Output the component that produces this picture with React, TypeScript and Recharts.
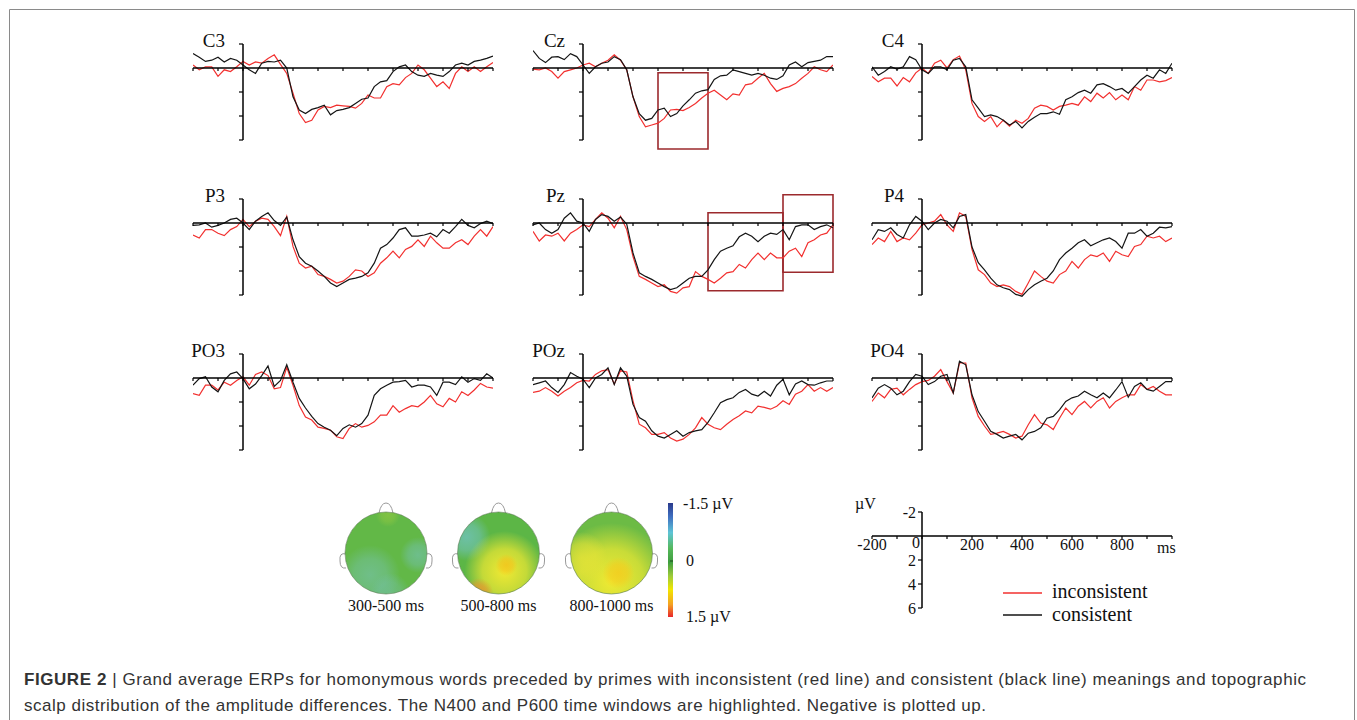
import { LineChart, Line, XAxis, YAxis, ReferenceLine, ReferenceArea } from 'recharts';

// time points (ms)
const times = [-200, -175, -150, -125, -100, -75, -50, -25, 0, 25, 50, 75, 100, 125, 150, 175, 200, 225, 250, 275, 300, 325, 350, 375, 400, 425, 450, 475, 500, 525, 550, 575, 600, 625, 650, 675, 700, 725, 750, 775, 800, 825, 850, 875, 900, 925, 950, 975, 1000];

// amplitudes in µV (positive = down, negative plotted up)
const c3Inconsistent = [-0.25, 0.15, -0.1, -0.1, 0.7, 0.15, 0.3, -0.1, -0.55, -0.25, -0.5, -0.4, -0.8, -1.1, -0.3, 0.45, 2.1, 3.8, 4.55, 4.35, 3.5, 3.2, 3.3, 3.1, 3.15, 3.2, 3.35, 2.95, 2.25, 2.5, 2.5, 1.55, 1.3, 1.4, 0.8, 0.45, -0.25, 0.15, 0.85, 1.55, 1.15, 1.7, 0.45, -0.1, 0.3, -0.1, 0.3, -0.1, -0.45];
const c3Consistent = [-1.2, -0.9, -0.55, -0.65, -0.9, -0.5, -0.8, -0.65, -0.25, 0.15, 0.45, -0.4, -0.55, -0.5, -0.65, 0, 2.4, 3.5, 3.8, 3.45, 3.3, 3.1, 3.9, 3.55, 3.45, 3.3, 2.95, 2.6, 2.5, 1.55, 1.15, 1.05, 0.3, -0.1, -0.25, 0.3, 0.6, 0.7, 0.45, 0.6, 0.7, 0.3, -0.25, -0.4, -0.25, -0.55, -0.65, -0.8, -1.0];
const czInconsistent = [0.1, 0.15, 0, 0.3, 0.85, 0.3, 0.15, 0, -0.25, -0.4, -0.1, -0.4, -0.65, -1.1, -0.65, 0.15, 2.4, 4.05, 4.9, 4.75, 4.6, 4.2, 3.5, 3.45, 3.55, 3.3, 2.95, 2.5, 2.1, 1.85, 2.25, 2.65, 2.15, 2.25, 1.4, 1.3, 0.85, 0.45, 1.3, 1.95, 1.7, 1.55, 1.3, 0.85, 0.45, -0.1, 0.15, 0.3, -0.25];
const czConsistent = [-1.45, -0.8, -0.45, -0.9, -0.95, -0.7, -1.2, -0.95, -0.25, 0.45, -0.1, -0.4, -0.5, -0.95, -0.7, 0.15, 2.4, 3.8, 4.35, 4.2, 3.5, 3.35, 4.05, 3.8, 3.15, 2.65, 2.1, 1.9, 1.8, 0.95, 0.65, 0.6, 0.15, 0.3, 0.45, 0.6, 0.45, 0.6, 0.85, 0.95, 0.65, -0.25, -0.5, -0.1, -0.45, -0.55, -0.65, -0.95, -0.95];
const c4Inconsistent = [0.7, 1.15, 0.85, 0.85, 1.5, 0.8, 1.15, 0.4, 0, 0.45, -0.4, -0.65, 0, -0.7, -1.0, 0.15, 2.95, 4.05, 4.45, 4.05, 4.9, 4.35, 4.85, 4.35, 4.6, 4.2, 3.35, 3.1, 3.2, 3.5, 3.2, 3.1, 2.95, 3.1, 2.4, 2.8, 2.1, 2.5, 2.05, 2.65, 2.25, 2.65, 1.55, 1.85, 1.0, 1.0, 1.15, 1.05, 0.8];
const c4Consistent = [-0.1, 0.6, 0.3, -0.1, 0.1, -0.1, -0.95, -0.7, 0.15, 0.45, -0.1, -0.1, 0.15, -0.65, -0.8, -0.1, 2.65, 3.35, 4.05, 3.9, 4.05, 4.35, 4.75, 4.45, 5.0, 4.45, 4.1, 3.8, 3.8, 3.65, 3.85, 2.65, 2.4, 2.05, 1.85, 2.1, 1.4, 1.3, 1.55, 1.85, 1.7, 2.1, 1.55, 1.0, 0.6, 0.85, 0.15, 0.45, -0.4];
const p3Inconsistent = [1.0, 1.25, 0.55, 0.55, 0.85, 1.05, 0.55, 0.3, -0.3, 0.3, -0.15, -0.4, -0.3, 0.3, 1.05, -0.55, 1.95, 3.35, 3.75, 3.6, 4.3, 4.45, 4.7, 5.0, 4.85, 4.45, 3.9, 4.0, 4.45, 4.15, 3.35, 2.9, 2.35, 2.9, 2.2, 1.95, 1.4, 1.95, 1.1, 1.65, 2.1, 2.1, 1.65, 1.4, 1.8, 1.1, 0.55, 1.1, 0.3];
const p3Consistent = [0.2, 0.15, 0, 0.35, 0.2, 0, -0.3, -0.4, 0, 0.55, -0.15, -0.55, -0.85, -0.2, 0.2, -0.5, 1.4, 2.8, 3.35, 3.6, 4.0, 4.45, 5.0, 5.3, 5.0, 4.7, 4.6, 4.45, 4.15, 3.35, 2.1, 1.8, 1.25, 0.55, 0.4, 1.1, 1.1, 1.0, 0.85, 1.15, 0.55, 0.85, 0.3, -0.3, 0.2, 0.4, 0.05, -0.15, 0.05];
const pzInconsistent = [0.7, 1.5, 1.0, 1.1, 0.85, 1.5, 0.85, 0.55, 0.15, 0.3, -0.3, -0.85, -0.4, 0.4, -0.55, 0.55, 2.8, 4.45, 4.7, 5.0, 5.3, 5.15, 5.7, 5.85, 5.4, 5.3, 4.05, 4.45, 4.7, 5.0, 4.6, 4.15, 4.05, 3.45, 3.75, 3.05, 2.5, 3.05, 2.5, 2.9, 2.9, 2.35, 2.1, 2.8, 1.65, 1.4, 1.0, 0.85, 0.15];
const pzConsistent = [0.15, 0, 0.55, 0.85, 0.55, -0.4, -0.85, -0.15, 0, 0.7, -0.3, -0.7, -0.55, -0.15, -0.5, 0.1, 2.5, 4.15, 4.45, 4.7, 5.0, 5.3, 5.55, 5.4, 5.0, 4.6, 4.45, 4.45, 3.9, 3.05, 2.35, 2.1, 1.9, 1.15, 0.85, 1.1, 1.55, 1.1, 0.85, 0.95, 0.55, 1.4, 0.3, 0.15, 0.15, 0.55, 0.3, 0.15, 0.4];
const p4Inconsistent = [1.8, 1.25, 1.55, 0.7, 1.55, 1.25, 1.4, 0.85, 0.15, 0, -0.15, -0.7, 0.15, 0.7, -0.85, -0.55, 2.2, 3.9, 4.3, 5.0, 5.3, 5.15, 5.3, 5.7, 5.95, 5.0, 4.0, 4.45, 4.85, 5.0, 4.3, 4.0, 3.2, 3.75, 3.05, 2.65, 2.8, 2.5, 3.2, 2.35, 2.65, 2.8, 1.95, 1.8, 1.1, 1.25, 1.1, 1.55, 1.25];
const p4Consistent = [1.4, 0.55, 0.7, 0.4, 0.95, 1.25, 0.15, -0.55, -0.15, 0.55, 0, -0.3, -0.15, 0.4, -0.55, -0.7, 2.0, 3.3, 3.9, 4.6, 5.15, 5.4, 5.55, 5.95, 6.1, 5.55, 5.15, 4.85, 4.6, 4.0, 3.05, 2.5, 2.1, 1.65, 1.4, 1.9, 1.65, 1.4, 1.25, 1.55, 2.1, 0.85, 0.85, 0.55, 1.1, 0.85, 0.35, 0.4, 0.3];
const po3Inconsistent = [1.3, 1.45, 0.6, 0.6, 1.0, 0.35, 0.6, 0.2, -0.1, 0.6, -0.3, -0.5, -0.2, 0.9, 0.8, -0.9, 0.6, 2.3, 3.25, 3.5, 4.1, 4.2, 4.35, 4.9, 5.05, 4.2, 3.8, 4.1, 3.95, 3.65, 3.1, 3.1, 2.3, 2.85, 2.55, 2.3, 2.4, 2.0, 1.45, 2.15, 2.4, 1.7, 2.0, 1.15, 1.45, 1.0, 0.45, 0.75, 0.85];
const po3Consistent = [0.6, 0.05, -0.1, 0.75, 1.15, 0.2, -0.35, -0.5, 0.05, 0.9, 0.5, -0.2, -1.0, 0.7, 0.2, -1.1, 0.35, 1.7, 2.5, 3.2, 3.8, 4.1, 4.35, 4.8, 4.2, 3.9, 4.1, 3.8, 3.1, 1.45, 0.9, 0.6, 0.35, 0.3, 0.2, 0.75, 0.6, 0.6, 0.75, 1.45, 0.35, 0.35, 0.55, -0.1, 0.35, 0.05, 0.2, -0.35, 0];
const pozInconsistent = [1.2, 1.1, 0.8, 1.1, 1.5, 1.1, 0.8, 0.4, 0.2, 0.25, -0.3, -0.6, -0.7, 0.5, -0.6, -0.5, 1.9, 3.85, 4.15, 4.7, 4.7, 4.55, 5.0, 5.25, 5.1, 4.7, 4.15, 3.3, 3.85, 4.15, 4.3, 3.85, 3.45, 3.15, 2.75, 2.9, 2.35, 2.45, 2.6, 2.35, 1.9, 2.2, 1.35, 1.1, 0.55, 1.1, 0.8, 1.1, 0.8];
const pozConsistent = [0.55, 0.4, 0.25, 0.8, 1.2, 0.55, -0.45, -0.15, 0.1, 0.8, 0, -0.3, -0.85, 0.55, -0.85, -0.15, 2.2, 3.3, 3.6, 4.4, 4.85, 5.0, 4.7, 4.4, 4.85, 4.55, 4.4, 4.3, 3.7, 2.9, 2.05, 1.8, 1.65, 1.2, 0.95, 1.35, 1.5, 1.1, 1.5, 0.6, 0.1, 1.4, 0.5, 0.25, 0.55, 0.6, 0.4, 0.25, 0.25];
const po4Inconsistent = [1.95, 1.25, 1.65, 0.95, 0.85, 1.4, 0.95, 0.55, 0.3, 0.2, -0.15, -0.7, 0.3, 1.25, -1.25, -1.25, 1.65, 3.2, 4.0, 4.7, 4.6, 4.45, 4.7, 5.0, 4.85, 3.9, 3.05, 3.75, 3.9, 4.3, 3.35, 2.5, 3.05, 2.35, 1.95, 2.5, 1.95, 1.65, 2.5, 1.95, 1.65, 1.4, 1.4, 0.55, 0.95, 0.7, 1.1, 1.4, 1.4];
const po4Consistent = [1.65, 0.85, 0.55, 0.85, 1.4, 1.1, 0.3, -0.3, -0.15, 0.55, 0.3, -0.15, -0.3, 1.25, -1.4, -1.1, 1.4, 2.8, 3.6, 4.45, 4.7, 5.0, 4.85, 4.7, 5.15, 4.6, 4.45, 4.15, 3.35, 3.2, 2.65, 1.95, 1.65, 1.5, 1.1, 1.4, 1.65, 1.25, 1.65, 1.0, 0.3, 1.6, 0.7, 0.4, 0.95, 1.1, 0.7, 0.3, 0.3];

const channelNames = ['C3', 'Cz', 'C4', 'P3', 'Pz', 'P4', 'PO3', 'POz', 'PO4'];
const inconsistentSeries = [c3Inconsistent, czInconsistent, c4Inconsistent, p3Inconsistent, pzInconsistent, p4Inconsistent, po3Inconsistent, pozInconsistent, po4Inconsistent];
const consistentSeries = [c3Consistent, czConsistent, c4Consistent, p3Consistent, pzConsistent, p4Consistent, po3Consistent, pozConsistent, po4Consistent];

// highlighted windows: [t1, t2, µV top, µV bottom]
const windowsByChannel: Record<string, number[][]> = {
  Cz: [[300, 500, 0.4, 6.75]],
  Pz: [[500, 800, -0.85, 5.65], [800, 1000, -2.35, 4.1]],
};

const xTicks = [-200, -100, 0, 100, 200, 300, 400, 500, 600, 700, 800, 900, 1000];
const yTicks = [-2, 2, 4, 6];
const xTickLabels = [-200, 0, 200, 400, 600, 800];

const topoLabels = ['300-500 ms', '500-800 ms', '800-1000 ms'];

const RED = '#f2302f';
const BLACK = '#151515';
const BOX = '#9c2a2d';
const SERIF = '"Liberation Serif", "Times New Roman", serif';

const colX = [243, 583, 922];
const rowY = [68, 223, 378];

function axisMarks(withLabels: boolean) {
  const els: any[] = [];
  els.push(<ReferenceLine key="xa" segment={[{ x: -200, y: 0 }, { x: 1000, y: 0 }]} stroke="#000" strokeWidth={1.5} />);
  els.push(<ReferenceLine key="ya" segment={[{ x: 0, y: -2 }, { x: 0, y: 6 }]} stroke="#000" strokeWidth={1.5} />);
  xTicks.forEach((t) => {
    const lab = withLabels && xTickLabels.includes(t);
    els.push(
      <ReferenceLine
        key={'xt' + t}
        segment={[{ x: t, y: 0 }, { x: t, y: 0.25 }]}
        stroke="#000"
        strokeWidth={1.2}
        label={lab ? { value: String(t), position: 'bottom', offset: 0, fill: '#111', fontSize: 16, dx: t === 0 ? -6 : 0, dy: t === 0 ? -2 : 0 } : undefined}
      />
    );
  });
  yTicks.forEach((v) => {
    els.push(
      <ReferenceLine
        key={'yt' + v}
        segment={[{ x: -16, y: v }, { x: 0, y: v }]}
        stroke="#000"
        strokeWidth={1.2}
        label={withLabels ? { value: String(v), position: 'left', offset: 2, fill: '#111', fontSize: 16 } : undefined}
      />
    );
  });
  return els;
}

function ErpPanel({ idx }: { idx: number }) {
  const name = channelNames[idx];
  const red = inconsistentSeries[idx];
  const black = consistentSeries[idx];
  const data = times.map((t, i) => ({ t, inconsistent: red[i], consistent: black[i] }));
  const x0 = colX[idx % 3];
  const y0 = rowY[Math.floor(idx / 3)];
  const wins = windowsByChannel[name] || [];
  return (
    <div style={{ position: 'absolute', left: x0 - 60, top: y0 - 46, fontFamily: SERIF }}>
      <LineChart width={320} height={140} data={data} margin={{ top: 10, right: 10, bottom: 10, left: 10 }}>
        <XAxis type="number" dataKey="t" domain={[-200, 1000]} tickCount={7} allowDataOverflow hide />
        <YAxis type="number" domain={[-3, 7]} tickCount={11} allowDataOverflow reversed hide />
        <Line type="linear" dataKey="inconsistent" stroke={RED} strokeWidth={1.2} dot={false} isAnimationActive={false} />
        <Line type="linear" dataKey="consistent" stroke={BLACK} strokeWidth={1.2} dot={false} isAnimationActive={false} />
        {axisMarks(false)}
        {wins.map((w, i) => (
          <ReferenceArea key={i} x1={w[0]} x2={w[1]} y1={w[2]} y2={w[3]} fill="none" fillOpacity={0} stroke={BOX} strokeWidth={1.6} />
        ))}
      </LineChart>
    </div>
  );
}

function ScalePanel() {
  const data = times.map((t) => ({ t }));
  const x0 = 922;
  const y0 = 536;
  return (
    <div style={{ position: 'absolute', left: x0 - 90, top: y0 - 46, fontFamily: SERIF }}>
      <LineChart width={350} height={140} data={data} margin={{ top: 10, right: 10, bottom: 10, left: 40 }}>
        <XAxis type="number" dataKey="t" domain={[-200, 1000]} tickCount={7} allowDataOverflow hide />
        <YAxis type="number" domain={[-3, 7]} tickCount={11} allowDataOverflow reversed hide />
        {axisMarks(true)}
      </LineChart>
    </div>
  );
}

function Blob({ id, cx, cy, r, color, op }: { id: string; cx: number; cy: number; r: number; color: string; op: number }) {
  return (
    <g>
      <defs>
        <radialGradient id={id}>
          <stop offset="0%" stopColor={color} stopOpacity={op} />
          <stop offset="55%" stopColor={color} stopOpacity={op * 0.7} />
          <stop offset="100%" stopColor={color} stopOpacity={0} />
        </radialGradient>
      </defs>
      <circle cx={cx} cy={cy} r={r} fill={`url(#${id})`} />
    </g>
  );
}

const topoCenters = [386, 498.5, 611.5];
const topoBase = ['#62b847', '#5cb646', '#6cbb45'];
const topoBlobs: [number, number, number, string, number][][] = [
  [[-16, 22, 30, '#79c3b4', 0.6], [32, 2, 18, '#76c2b8', 0.6], [4, 40, 20, '#77c1b6', 0.5], [2, -38, 12, '#a6cf3e', 0.45]],
  [[-32, -16, 24, '#70c2b6', 0.85], [6, 18, 40, '#f1e932', 1], [8, 12, 11, '#f2c41c', 0.85], [-20, 40, 15, '#f0902c', 0.85]],
  [[0, 28, 58, '#f0ea32', 1], [-30, 5, 26, '#e8e437', 0.75], [7, 20, 16, '#f3cc1e', 0.85]],
];

function Decorations() {
  const cy = 553;
  const R = 41;
  return (
    <svg width={1357} height={720} style={{ position: 'absolute', left: 0, top: 0 }}>
      <defs>
        <linearGradient id="cbar" x1="0" y1="0" x2="0" y2="1">
          <stop offset="0%" stopColor="#2a3a8c" />
          <stop offset="12%" stopColor="#3f6fc0" />
          <stop offset="26%" stopColor="#5ec4d6" />
          <stop offset="40%" stopColor="#55b85a" />
          <stop offset="52%" stopColor="#3f9e3f" />
          <stop offset="64%" stopColor="#9ccb3a" />
          <stop offset="76%" stopColor="#f2e600" />
          <stop offset="89%" stopColor="#f4a223" />
          <stop offset="100%" stopColor="#e8262b" />
        </linearGradient>
        {topoCenters.map((cx, i) => (
          <clipPath key={i} id={'head' + i}>
            <circle cx={cx} cy={cy} r={R} />
          </clipPath>
        ))}
      </defs>
      {/* figure frame */}
      <line x1={9.5} y1={9.5} x2={1354.5} y2={9.5} stroke="#8a8a8a" strokeWidth={1} />
      <line x1={9.5} y1={9.5} x2={9.5} y2={720} stroke="#8a8a8a" strokeWidth={1} />
      <line x1={1354.5} y1={9.5} x2={1354.5} y2={720} stroke="#8a8a8a" strokeWidth={1} />

      {/* channel labels */}
      {channelNames.map((n, i) => (
        <text key={n} x={colX[i % 3] - 18} y={rowY[Math.floor(i / 3)] - 21} textAnchor="end" fontFamily={SERIF} fontSize={19} fill="#111">
          {n}
        </text>
      ))}

      {/* scalp maps */}
      {topoCenters.map((cx, i) => (
        <g key={i}>
          <path d={`M ${cx - 7} ${cy - R + 1} Q ${cx - 5} ${cy - R - 9} ${cx} ${cy - R - 9} Q ${cx + 5} ${cy - R - 9} ${cx + 7} ${cy - R + 1}`} fill="#fff" stroke="#9a9a9a" strokeWidth={1} />
          <path d={`M ${cx - R + 1} ${cy + 1} Q ${cx - R - 6} ${cy - 1} ${cx - R - 5} ${cy + 8} Q ${cx - R - 5} ${cy + 16} ${cx - R + 1} ${cy + 15}`} fill="#fff" stroke="#9a9a9a" strokeWidth={1} />
          <path d={`M ${cx + R - 1} ${cy + 1} Q ${cx + R + 6} ${cy - 1} ${cx + R + 5} ${cy + 8} Q ${cx + R + 5} ${cy + 16} ${cx + R - 1} ${cy + 15}`} fill="#fff" stroke="#9a9a9a" strokeWidth={1} />
          <g clipPath={`url(#head${i})`}>
            <circle cx={cx} cy={cy} r={R} fill={topoBase[i]} />
            {topoBlobs[i].map((b, j) => (
              <Blob key={j} id={`tb${i}_${j}`} cx={cx + b[0]} cy={cy + b[1]} r={b[2]} color={b[3]} op={b[4]} />
            ))}
          </g>
          <circle cx={cx} cy={cy} r={R} fill="none" stroke="#5a7a50" strokeWidth={0.6} />
          <text x={cx} y={611} textAnchor="middle" fontFamily={SERIF} fontSize={16} fill="#111">
            {topoLabels[i]}
          </text>
        </g>
      ))}

      {/* colour bar */}
      <rect x={668} y={503} width={5} height={114} fill="url(#cbar)" />
      <line x1={670} y1={561} x2={673} y2={561} stroke="#1a4a1a" strokeWidth={1} />
      <text x={683} y={509} fontFamily={SERIF} fontSize={16} fill="#111">-1.5 µV</text>
      <text x={686} y={566} fontFamily={SERIF} fontSize={16} fill="#111">0</text>
      <text x={686} y={622} fontFamily={SERIF} fontSize={16} fill="#111">1.5 µV</text>

      {/* scale panel units */}
      <text x={855} y={509} fontFamily={SERIF} fontSize={16} fill="#111">µV</text>
      <text x={1157} y={553} fontFamily={SERIF} fontSize={16} fill="#111">ms</text>

      {/* legend */}
      <line x1={1003} y1={593} x2={1042} y2={593} stroke={RED} strokeWidth={1.6} />
      <text x={1052} y={598} fontFamily={SERIF} fontSize={20} fill="#111">inconsistent</text>
      <line x1={1003} y1={615} x2={1042} y2={615} stroke={BLACK} strokeWidth={1.6} />
      <text x={1052} y={621} fontFamily={SERIF} fontSize={20} fill="#111">consistent</text>

      {/* caption */}
      <text x={24} y={685} fontFamily='"Liberation Sans", Arial, sans-serif' fontSize={17} fill="#333" textLength={1282} lengthAdjust="spacing">
        <tspan fontWeight={700}>FIGURE 2</tspan>
        {'  |  Grand average ERPs for homonymous words preceded by primes with inconsistent (red line) and consistent (black line) meanings and topographic'}
      </text>
      <text x={24} y={711} fontFamily='"Liberation Sans", Arial, sans-serif' fontSize={17} fill="#333" textLength={962} lengthAdjust="spacing">
        scalp distribution of the amplitude differences. The N400 and P600 time windows are highlighted. Negative is plotted up.
      </text>
    </svg>
  );
}

export default function App() {
  return (
    <div style={{ position: 'absolute', left: 0, top: 0, width: 1357, height: 720, overflow: 'hidden', background: '#fff' }}>
      <Decorations />
      {channelNames.map((n, i) => (
        <ErpPanel key={n} idx={i} />
      ))}
      <ScalePanel />
    </div>
  );
}
